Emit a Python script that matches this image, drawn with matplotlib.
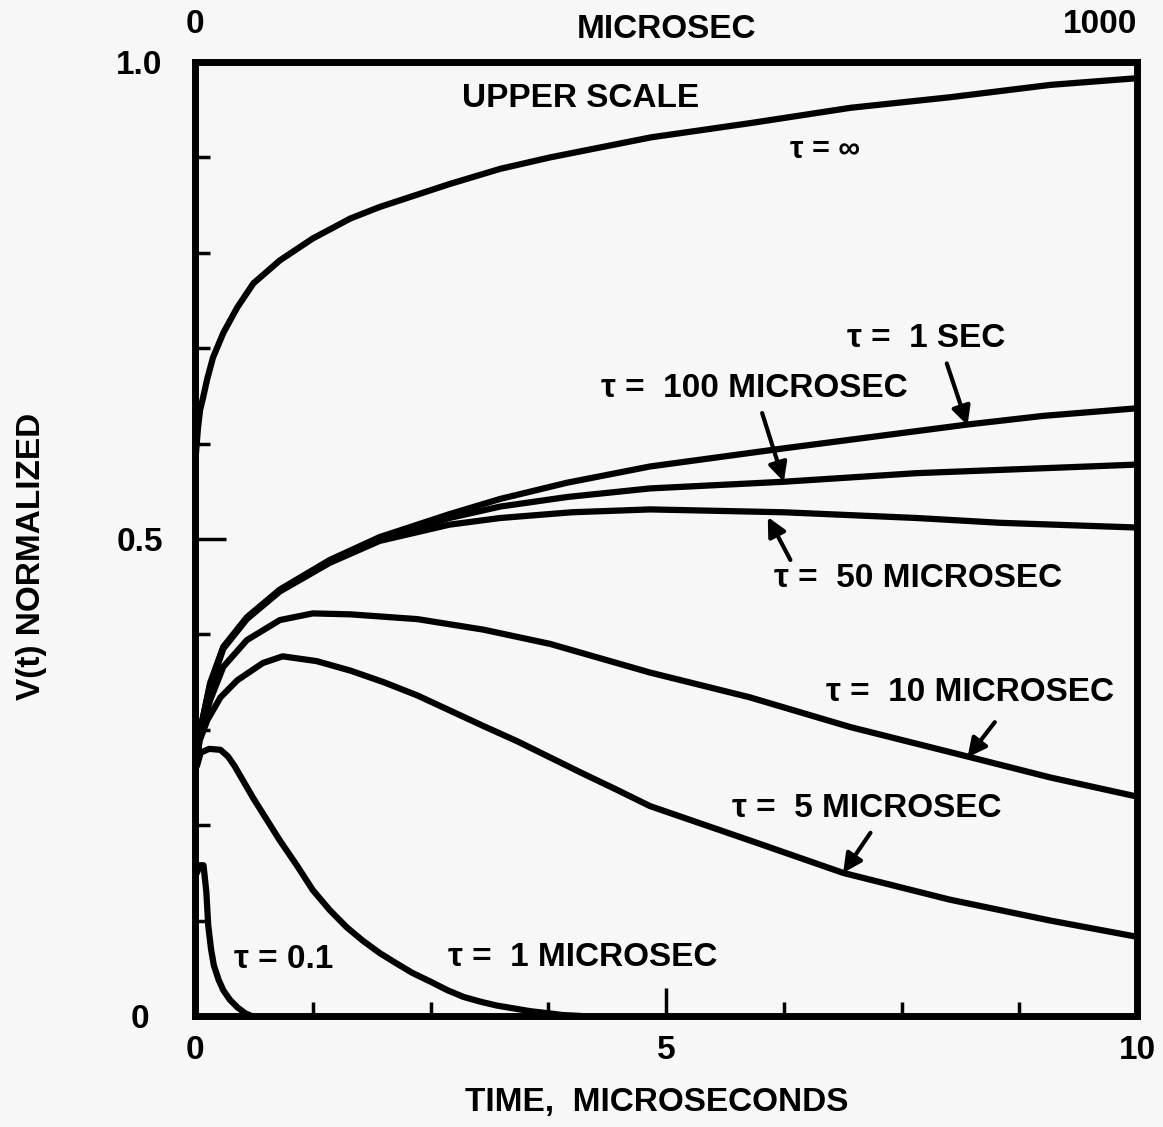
import numpy as np
import matplotlib
matplotlib.use("Agg")
import matplotlib.pyplot as plt
from matplotlib.ticker import FixedLocator

plt.rcParams['font.family'] = ['Liberation Sans Narrow', 'Liberation Sans', 'DejaVu Sans']
plt.rcParams['font.weight'] = 'bold'

# lower scale, microseconds (0-10)
t_01 = [0.02, 0.05, 0.09, 0.12, 0.14, 0.17, 0.20, 0.25, 0.30, 0.37, 0.45, 0.53, 0.60]
v_01 = [0.150, 0.158, 0.158, 0.130, 0.095, 0.070, 0.053, 0.038, 0.027, 0.017, 0.009, 0.003, 0.0]

t_1 = [0.02, 0.06, 0.15, 0.27, 0.35, 0.42, 0.52, 0.62, 0.76, 0.90, 1.08, 1.25, 1.43, 1.61,
       1.78, 1.96, 2.14, 2.31, 2.50, 2.68, 2.85, 3.03, 3.20, 3.38, 3.56, 3.74, 3.90, 4.10]
v_1 = [0.262, 0.276, 0.280, 0.279, 0.272, 0.262, 0.245, 0.228, 0.206, 0.184, 0.158, 0.132,
       0.111, 0.093, 0.079, 0.066, 0.055, 0.045, 0.036, 0.027, 0.020, 0.015, 0.011, 0.008,
       0.005, 0.003, 0.001, 0.0]

t_5 = [0.02, 0.05, 0.13, 0.27, 0.45, 0.72, 0.93, 1.29, 1.65, 2.00, 2.36, 2.71, 3.06, 3.42,
       3.77, 4.12, 4.48, 4.83, 5.89, 6.88, 8.01, 9.08, 10.0]
v_5 = [0.270, 0.289, 0.310, 0.334, 0.352, 0.370, 0.377, 0.372, 0.362, 0.350, 0.336, 0.320,
       0.304, 0.288, 0.271, 0.254, 0.237, 0.220, 0.184, 0.150, 0.122, 0.100, 0.083]

t_10 = [0.02, 0.05, 0.16, 0.30, 0.55, 0.90, 1.25, 1.65, 2.36, 3.06, 3.77, 4.30, 4.83, 5.89,
        6.95, 8.20, 9.08, 10.0]
v_10 = [0.270, 0.292, 0.331, 0.366, 0.394, 0.415, 0.422, 0.421, 0.416, 0.405, 0.390, 0.375,
        0.360, 0.334, 0.303, 0.272, 0.250, 0.230]

t_50 = [0.02, 0.05, 0.16, 0.30, 0.55, 0.90, 1.43, 1.96, 2.70, 3.24, 4.00, 4.83, 6.25, 7.66,
        8.54, 10.0]
v_50 = [0.270, 0.297, 0.345, 0.385, 0.416, 0.445, 0.475, 0.498, 0.515, 0.522, 0.528, 0.531,
        0.528, 0.522, 0.517, 0.512]

t_100 = [0.02, 0.05, 0.16, 0.30, 0.55, 0.90, 1.43, 1.96, 2.70, 3.24, 3.95, 4.83, 6.25, 7.66, 10.0]
v_100 = [0.270, 0.297, 0.347, 0.386, 0.417, 0.446, 0.477, 0.500, 0.522, 0.534, 0.544, 0.553,
         0.560, 0.569, 0.578]

t_1s = [0.02, 0.05, 0.16, 0.30, 0.55, 0.90, 1.43, 1.96, 2.70, 3.24, 3.95, 4.83, 6.25,
        8.20, 9.00, 10.0]
v_1s = [0.270, 0.297, 0.349, 0.387, 0.418, 0.447, 0.478, 0.502, 0.526, 0.542, 0.559, 0.576,
        0.595, 0.620, 0.629, 0.637]

# upper scale, microseconds (0-1000)
t_inf = [1, 3, 5.3, 8.5, 13, 19, 30, 45, 62, 90, 125, 165, 196, 270, 324, 377, 484, 590,
         696, 801, 908, 1000]
v_inf = [0.590, 0.615, 0.635, 0.648, 0.668, 0.690, 0.716, 0.743, 0.768, 0.792, 0.815, 0.836,
         0.848, 0.872, 0.888, 0.900, 0.921, 0.936, 0.952, 0.963, 0.976, 0.983]

fs = 24
lw = 4.5

fig = plt.figure(figsize=(11.63, 11.27), dpi=100)
fig.patch.set_facecolor('#f7f7f7')
ax = fig.add_axes([0.1677, 0.0985, 0.8100, 0.8465])
ax.set_facecolor('#f7f7f7')

for tt, vv in [(t_01, v_01), (t_1, v_1), (t_5, v_5), (t_10, v_10),
               (t_50, v_50), (t_100, v_100), (t_1s, v_1s)]:
    ax.plot(tt, vv, color='black', lw=lw, solid_joinstyle='round', solid_capstyle='round')

ax.set_xlim(0, 10)
ax.set_ylim(0, 1.0)

for s in ax.spines.values():
    s.set_linewidth(5)

ax.xaxis.set_major_locator(FixedLocator([0, 5, 10]))
ax.xaxis.set_minor_locator(FixedLocator([1.25, 2.5, 3.75, 6.25, 7.5, 8.75]))
ax.set_xticklabels(['0', '5', '10'])
ax.yaxis.set_major_locator(FixedLocator([0, 0.5, 1.0]))
ax.yaxis.set_minor_locator(FixedLocator([0.1, 0.2, 0.3, 0.4, 0.6, 0.7, 0.8, 0.9]))
ax.set_yticklabels(['0', '0.5', '1.0'])
ax.tick_params(axis='x', which='major', direction='in', length=20, width=2.5, labelsize=fs, pad=14)
ax.tick_params(axis='x', which='minor', direction='in', length=10, width=2.5)
ax.tick_params(axis='y', which='major', direction='in', length=22, width=2.5, labelsize=fs, pad=40)
ax.tick_params(axis='y', which='minor', direction='in', length=11, width=2.5)
for lab in ax.get_yticklabels():
    lab.set_horizontalalignment('center')

ax.set_xlabel('TIME,  MICROSECONDS', fontsize=fs, fontweight='bold')
ax.xaxis.set_label_coords(0.49, -0.074)
ax.set_ylabel('V(t) NORMALIZED', fontsize=fs, fontweight='bold')
ax.yaxis.set_label_coords(-0.157, 0.482)

# upper scale
ax2 = ax.twiny()
ax2.plot(t_inf, v_inf, color='black', lw=lw, solid_joinstyle='round', solid_capstyle='round')
ax2.set_xlim(0, 1000)
ax2.set_xticks([0, 1000])
ax2.set_xticklabels(['0', '1000'])
ax2.tick_params(axis='x', length=0, labelsize=fs, pad=16)
ax2.get_xticklabels()[1].set_horizontalalignment('right')
for s in ax2.spines.values():
    s.set_visible(False)
ax.text(0.5, 1.034, 'MICROSEC', transform=ax.transAxes, ha='center', va='center',
        fontsize=fs, fontweight='bold')

ax.text(4.09, 0.962, 'UPPER SCALE', ha='center', va='center', fontsize=fs)
ax.text(6.69, 0.908, 'τ = ∞', ha='center', va='center', fontsize=22)
ax.text(7.76, 0.710, 'τ =  1 SEC', ha='center', va='center', fontsize=fs)
ax.text(5.94, 0.658, 'τ =  100 MICROSEC', ha='center', va='center', fontsize=fs)
ax.text(7.67, 0.459, 'τ =  50 MICROSEC', ha='center', va='center', fontsize=fs)
ax.text(8.23, 0.339, 'τ =  10 MICROSEC', ha='center', va='center', fontsize=fs)
ax.text(7.13, 0.217, 'τ =  5 MICROSEC', ha='center', va='center', fontsize=fs)
ax.text(0.94, 0.059, 'τ = 0.1', ha='center', va='center', fontsize=fs)
ax.text(4.11, 0.061, 'τ =  1 MICROSEC', ha='center', va='center', fontsize=fs)

arrows = [((7.98, 0.684), (8.20, 0.619)),
          ((6.02, 0.632), (6.25, 0.560)),
          ((6.32, 0.478), (6.08, 0.523)),
          ((8.49, 0.308), (8.20, 0.271)),
          ((7.17, 0.192), (6.88, 0.150))]
for tail, tip in arrows:
    ax.annotate('', xy=tip, xytext=tail,
                arrowprops=dict(arrowstyle='-|>', lw=3, color='black',
                                mutation_scale=28, shrinkA=0, shrinkB=0))

fig.savefig('out.png', dpi=100, facecolor=fig.get_facecolor())
